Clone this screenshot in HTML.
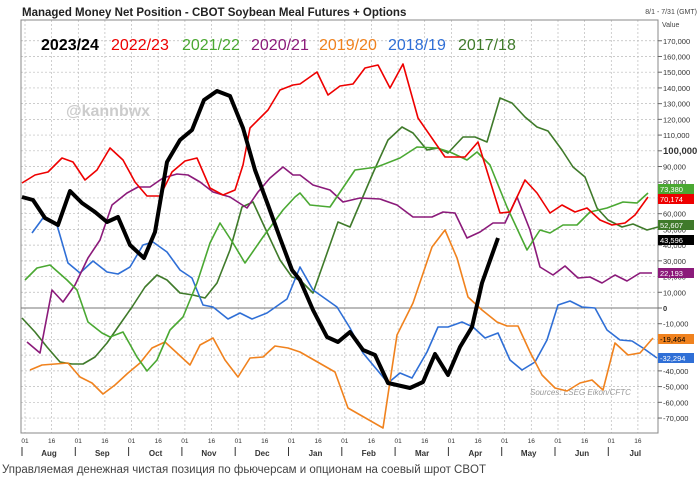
<!DOCTYPE html>
<html><head><meta charset="utf-8"><style>
body{margin:0;background:#fff;width:699px;height:483px;overflow:hidden;font-family:"Liberation Sans",sans-serif}
</style></head><body>
<svg id="s" width="699" height="483" xmlns="http://www.w3.org/2000/svg" font-family="Liberation Sans, sans-serif">
<rect width="699" height="483" fill="#fff"/>
<text x="22" y="16" font-size="11.5" font-weight="bold" fill="#222">Managed Money Net Position - CBOT Soybean Meal Futures + Options</text>
<text x="697" y="14" font-size="7" fill="#444" text-anchor="end">8/1 - 7/31 (GMT)</text>
<text x="662" y="27" font-size="7" fill="#444">Value</text>
<g id="grid"></g>
<rect x="21" y="20" width="637" height="413" fill="none" stroke="#888" stroke-width="1"/>
<line x1="21" y1="308" x2="658" y2="308" stroke="#777" stroke-width="1"/>
<text x="66" y="116" font-size="16" font-weight="bold" fill="#ccc">@kannbwx</text>
<text x="530" y="395" font-size="8" font-style="italic" fill="#999">Sources: LSEG Eikon/CFTC</text>
<g font-size="16">
<text x="41" y="50" font-weight="bold" fill="#000">2023/24</text>
<text x="111" y="50" fill="#e00">2022/23</text>
<text x="182" y="50" fill="#4aa832">2021/22</text>
<text x="251" y="50" fill="#8b1a7a">2020/21</text>
<text x="319" y="50" fill="#f0821e">2019/20</text>
<text x="388" y="50" fill="#2f6fd6">2018/19</text>
<text x="458" y="50" fill="#3f7a2a">2017/18</text>
</g>
<g id="lines" fill="none" stroke-linejoin="round"></g>
<g id="axis"></g>
<text x="2" y="473" font-size="11.5" fill="#444">Управляемая денежная чистая позиция по фьючерсам и опционам на соевый шрот CBOT</text>
</svg>
<script>
var NS="http://www.w3.org/2000/svg";
function el(p,t,a,txt){var e=document.createElementNS(NS,t);for(var k in a)e.setAttribute(k,a[k]);if(txt!==undefined)e.textContent=txt;document.getElementById(p).appendChild(e);}
function Y(v){return 308-v/10000*15.72;}
for(var v=-70000;v<=170000;v+=10000){var y=Y(v);
 if(v!=0)el("grid","line",{x1:21,x2:658,y1:y,y2:y,stroke:"#bbb","stroke-dasharray":"2,2","stroke-width":0.7});
 el("axis","line",{x1:658,x2:662,y1:y,y2:y,stroke:"#666"});
 var s=v==0?"0":v.toLocaleString("en-US");
 el("axis","text",{x:663,y:y+3,"font-size":v==100000?9.5:7.5,"font-weight":(v==100000||v==0)?"bold":"normal",fill:"#333"},s);}
var mon=["Aug","Sep","Oct","Nov","Dec","Jan","Feb","Mar","Apr","May","Jun","Jul"];
for(var i=0;i<12;i++){var x=25+i*53.3;
 el("grid","line",{x1:x,x2:x,y1:20,y2:433,stroke:"#bbb","stroke-dasharray":"2,2","stroke-width":0.7});
 el("grid","line",{x1:x+26.6,x2:x+26.6,y1:20,y2:433,stroke:"#bbb","stroke-dasharray":"2,2","stroke-width":0.7});
 el("axis","text",{x:x,y:443,"font-size":6.5,fill:"#333","text-anchor":"middle"},"01");
 el("axis","text",{x:x+26.6,y:443,"font-size":6.5,fill:"#333","text-anchor":"middle"},"16");
 el("axis","line",{x1:x-3,x2:x-3,y1:447,y2:456,stroke:"#333"});
 el("axis","text",{x:x+24,y:456,"font-size":8,"font-weight":"bold",fill:"#333","text-anchor":"middle"},mon[i]);}
function P(c,w,pts){var d="";for(var i=0;i<pts.length;i+=2)d+=(i?"L":"M")+pts[i]+","+pts[i+1];el("lines","path",{d:d,stroke:c,"stroke-width":w});}
P("#3f7a2a",1.6,[22,318,35,332,47,347,60,362,72,364,83,364,95,357,107,343,118,327,132,307,145,287,157,275,167,280,180,293,193,295,205,298,217,283,230,250,242,207,253,202,265,228,280,260,292,277,300,280,313,293,338,222,350,227,373,173,388,140,402,127,413,133,427,150,438,148,448,153,463,137,475,137,487,142,500,98,512,103,525,117,537,127,548,131,562,150,573,167,585,177,597,208,608,220,622,227,633,224,647,230,658,227]);
P("#2f6fd6",1.6,[32,233,43,218,57,225,68,263,80,273,93,261,107,272,118,274,130,267,143,245,153,242,167,252,180,270,192,278,203,305,213,307,228,319,240,313,252,319,267,313,287,299,300,267,313,290,337,307,350,328,363,353,388,383,400,373,412,378,427,352,438,327,448,327,462,322,473,327,485,338,498,333,510,360,522,370,535,362,547,340,558,305,570,301,582,307,595,308,607,330,620,340,632,341,643,348,657,358]);
P("#f0821e",1.6,[30,370,42,365,55,364,68,363,80,377,92,383,103,394,115,385,128,373,140,363,152,348,165,342,177,353,190,365,200,345,213,338,225,360,238,377,250,358,263,357,275,346,288,348,300,352,335,372,348,408,383,428,397,335,413,303,432,247,445,230,457,258,468,297,482,310,497,322,507,326,518,326,530,352,542,375,555,388,567,391,580,383,592,380,603,390,615,343,628,355,640,353,653,338]);
P("#8b1a7a",1.6,[27,342,40,353,52,290,63,302,75,285,88,258,100,240,112,205,127,193,138,187,150,187,163,178,177,174,188,175,200,182,213,192,230,197,247,208,258,192,270,178,283,167,293,175,300,175,313,185,330,190,343,202,360,198,380,199,397,205,413,217,432,217,443,212,455,213,467,238,480,232,493,223,505,223,517,197,530,230,540,267,553,275,565,266,578,278,590,277,602,283,615,275,627,281,640,273,652,273]);
P("#4aa832",1.6,[25,280,37,268,50,265,67,280,77,290,88,322,102,333,110,337,123,332,137,357,147,371,157,360,170,330,183,317,197,283,210,243,220,223,233,243,245,263,263,237,283,210,295,197,300,193,310,205,330,207,355,170,377,167,400,158,417,147,437,148,450,152,467,160,477,152,490,165,507,207,527,250,540,230,550,233,563,225,577,225,590,212,607,208,623,202,637,203,648,193]);
P("#e00",1.6,[22,183,35,175,48,172,62,158,73,162,85,180,97,170,110,148,123,160,135,182,147,196,160,196,172,172,185,161,197,158,210,188,223,195,235,190,243,165,250,128,268,110,280,90,293,85,300,84,317,72,328,95,340,86,353,84,365,68,378,65,390,88,403,64,418,118,445,157,465,157,478,142,500,213,510,212,525,180,537,193,550,213,562,205,575,212,587,208,600,220,612,225,625,223,635,215,648,197]);
P("#000",4,[22,197,33,200,45,218,58,225,70,191,82,203,95,212,107,222,118,217,130,245,144,258,155,232,167,162,180,140,192,130,204,100,217,91,230,96,243,128,255,170,268,205,280,238,292,270,300,280,313,310,327,337,338,342,350,332,363,350,375,355,388,383,410,388,423,382,435,354,448,375,460,347,472,327,482,283,498,238]);
var tags=[[73380,"#4aa832","#fff"],[70174,"#e00","#fff"],[52607,"#3f7a2a","#fff"],[43596,"#000","#fff"],[22193,"#8b1a7a","#fff"],[-19464,"#f0821e","#000"],[-32294,"#2f6fd6","#fff"]];
var ys=[189,199,225,240,273,339,358];
tags.forEach(function(t,i){el("axis","rect",{x:658,y:ys[i]-5,width:36,height:10,fill:t[1]});
 el("axis","text",{x:660,y:ys[i]+3,"font-size":7.5,fill:t[2]},(t[0]<0?"-":"")+Math.abs(t[0]).toLocaleString("en-US"));});
</script>
</body></html>
